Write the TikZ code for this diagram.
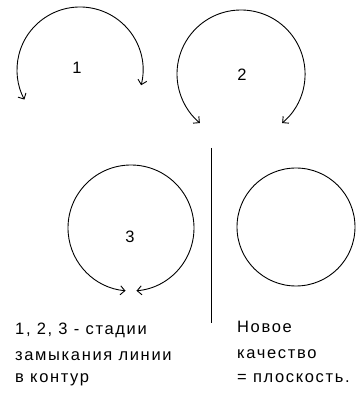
\documentclass[tikz,border=0pt]{standalone}
\usepackage{fontspec}
\setmainfont{Liberation Sans}[LetterSpace=10]
\usetikzlibrary{arrows.meta}
\tikzset{
  curve/.style={line width=0.9pt, black},
  tip/.style={curve, {Straight Barb[length=4.5pt,width=9pt]}-{Straight Barb[length=4.5pt,width=9pt]}},
  num/.style={font=\fontsize{16.5}{18}\selectfont, inner sep=0pt},
  txt/.style={font=\fontsize{16.5}{18}\selectfont, inner sep=0pt, anchor=base west}
}
\begin{document}
\begin{tikzpicture}[x=1pt,y=1pt]
\useasboundingbox (0,0) rectangle (358,394);
% centres
\coordinate (c1) at (80,324);
\coordinate (c2) at (241,320);
\coordinate (c3) at (131,166);
\coordinate (c4) at (296,167);
% stage 1
\draw[tip] (c1) ++(-14:63) arc[start angle=-14, end angle=208, radius=63];
\node[num] (n1) at (77,326) {1};
% stage 2
\draw[tip] (c2) ++(-50:64) arc[start angle=-50, end angle=230, radius=64];
\node[num] (n2) at (242,319) {2};
% stage 3
\draw[tip] (c3) ++(275:63) arc[start angle=275, end angle=625, radius=63];
\node[num] (n3) at (130,157) {3};
% divider
\coordinate (v1) at (211,246);
\coordinate (v2) at (211,71);
\draw[curve] (v1) -- (v2);
% closed contour
\draw[curve] (c4) circle[radius=59];
% texts
\node[txt] (t1) at (15,59) {1, 2, 3 - стадии};
\node[txt] (t2) at (15,34) {замыкания линии};
\node[txt] (t3) at (15,11) {в контур};
\node[txt] (t4) at (237,61) {Новое};
\node[txt] (t5) at (237,35) {качество};
\node[txt] (t6) at (237,11) {= плоскость.};
\end{tikzpicture}
\end{document}
